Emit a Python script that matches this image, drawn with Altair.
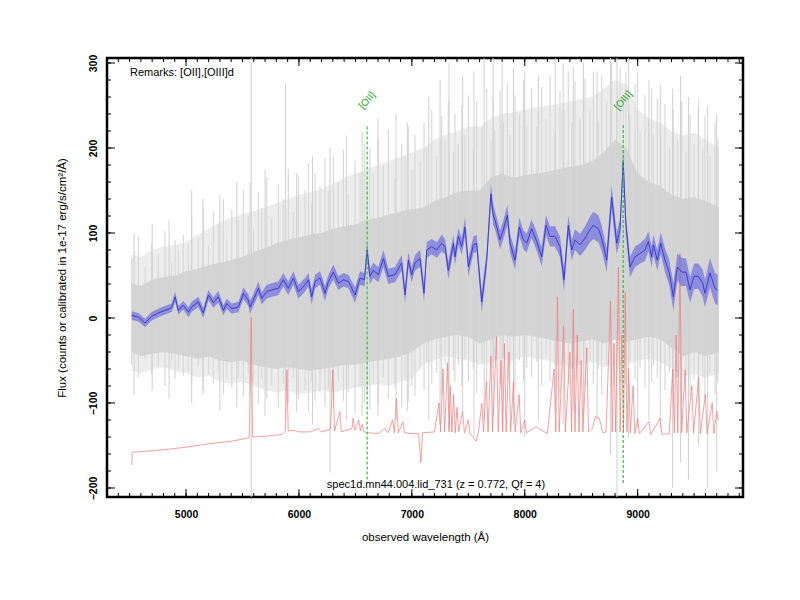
import altair as alt
import pandas as pd

# ---------------- data ----------------
# smoothed spectrum (blue) with its error band
blue_wl = [4519,4578,4637,4696,4755,4814,4873,4903,4932,4976,
           5021,5050,5109,5153,5198,5242,5286,5331,5360,5405,
           5464,5508,5552,5567,5596,5641,5670,5715,5759,5818,
           5862,5906,5951,5995,6054,6084,6113,6143,6187,6231,
           6261,6305,6349,6394,6438,6497,6541,6580,6604,6628,
           6659,6703,6748,6792,6851,6910,6940,6969,6999,7028,
           7073,7108,7132,7176,7220,7264,7294,7323,7368,7382,
           7412,7442,7471,7501,7545,7574,7619,7663,7700,7720,
           7737,7781,7811,7846,7870,7914,7952,7988,8017,8061,
           8106,8150,8188,8224,8268,8312,8348,8386,8416,8445,
           8490,8534,8578,8608,8652,8681,8726,8770,8814,8844,
           8872,8895,8932,8977,9021,9065,9095,9124,9139,9174,
           9204,9242,9281,9316,9352,9390,9428,9464,9499,9537,
           9576,9596,9641,9685,9709]
blue_flux = [3,1,-6,2,6,9,12,25,9,15,
             7,13,19,6,27,18,25,9,17,11,
             13,29,21,13,21,35,23,31,33,35,
             45,35,47,31,39,45,25,43,47,29,
             43,54,41,45,43,27,47,45,80,49,
             56,51,70,49,51,65,27,68,51,65,
             70,29,80,84,80,88,84,56,88,72,
             96,84,107,60,86,88,19,68,146,122,
             115,92,104,121,88,68,107,92,88,105,
             90,72,109,96,96,84,45,109,80,92,
             86,94,104,109,105,94,68,142,88,104,
             185,111,60,72,76,80,90,72,86,68,
             88,68,53,25,60,54,54,33,49,49,
             41,29,53,35,33]
blue_err = [5,5,5,5,5,5,5,6,5,5,
            6,6,6,6,6,6,7,6,6,6,
            6,7,7,8,7,8,7,8,8,8,
            8,8,8,8,8,8,9,8,8,9,
            8,9,8,8,8,9,8,8,9,9,
            9,9,10,9,9,9,10,9,9,9,
            10,10,9,9,9,10,9,10,10,10,
            10,10,11,11,10,10,12,11,12,12,
            11,11,11,12,11,11,11,11,11,11,
            11,11,12,12,12,12,13,12,12,12,
            13,14,15,16,16,15,14,14,13,13,
            13,12,12,12,12,13,12,12,12,12,
            13,14,15,16,16,17,16,15,15,15,
            16,16,17,18,18]

# extent of the individual exposures (grey streaks) at the same wavelengths
noise_hi = [70,95,60,88,75,102,66,92,80,98,
            88,120,95,130,85,125,110,140,92,128,
            115,150,120,160,105,148,130,165,118,158,
            140,175,125,168,150,182,135,170,155,188,
            150,190,160,198,145,185,170,205,160,200,
            170,210,180,222,165,205,190,225,175,215,
            185,230,200,245,190,238,210,255,195,240,
            205,250,215,262,200,255,225,270,210,260,
            220,268,230,275,215,262,240,280,225,270,
            225,272,235,285,220,268,245,290,230,278,
            235,282,245,290,230,285,255,300,250,295,
            260,290,240,275,220,262,235,270,215,258,
            215,252,200,245,210,255,195,240,205,248,
            200,238,190,230,210]
noise_lo = [-55,-70,-48,-66,-58,-80,-50,-72,-60,-68,
            -62,-75,-55,-85,-66,-78,-60,-90,-70,-82,
            -70,-92,-65,-88,-75,-100,-72,-95,-80,-105,
            -78,-100,-70,-95,-85,-110,-75,-98,-88,-105,
            -82,-105,-75,-98,-88,-112,-80,-100,-90,-108,
            -78,-100,-70,-95,-82,-105,-72,-98,-80,-92,
            -60,-85,-52,-78,-65,-90,-55,-80,-62,-75,
            -55,-80,-48,-75,-60,-88,-52,-78,-58,-72,
            -50,-78,-45,-72,-55,-85,-50,-75,-58,-70,
            -52,-80,-48,-75,-58,-88,-52,-78,-60,-72,
            -55,-82,-50,-78,-60,-90,-55,-80,-62,-75,
            -55,-78,-50,-72,-58,-82,-50,-75,-56,-70,
            -60,-85,-65,-95,-70,-100,-68,-92,-72,-98,
            -70,-95,-65,-90,-75]

# individual exposures (grey): dense core and outer envelope
gray_wl = [4520,4600,4700,4800,4900,5000,5100,5200,5300,5400,
           5500,5600,5700,5800,5900,6000,6100,6200,6300,6400,
           6500,6600,6700,6800,6900,7000,7100,7200,7300,7400,
           7500,7600,7700,7800,7900,8000,8100,8200,8300,8400,
           8500,8600,8700,8800,8900,9000,9100,9200,9300,9400,
           9500,9600,9720]
inner_lo = [-40,-45,-42,-40,-42,-45,-48,-45,-50,-52,
            -50,-55,-58,-60,-58,-60,-62,-60,-58,-55,
            -55,-52,-50,-48,-45,-40,-30,-25,-22,-20,
            -22,-30,-25,-20,-22,-20,-22,-25,-28,-30,
            -28,-25,-30,-25,-28,-25,-22,-25,-35,-45,
            -40,-45,-40]
inner_hi = [40,38,45,48,50,55,58,62,65,68,
            72,78,82,88,92,95,98,100,105,108,
            110,115,118,122,125,128,130,138,142,148,
            150,150,165,170,165,168,170,172,175,178,
            180,185,195,210,200,170,160,155,145,140,
            142,138,130]
outer_lo = [-62,-65,-60,-58,-62,-65,-70,-68,-75,-78,
            -75,-80,-85,-88,-85,-90,-88,-85,-88,-85,
            -82,-80,-78,-80,-75,-72,-55,-50,-45,-48,
            -50,-55,-52,-48,-50,-45,-48,-50,-55,-58,
            -55,-52,-58,-55,-55,-50,-48,-52,-60,-70,
            -65,-70,-65]
outer_hi = [75,72,80,84,86,90,98,105,112,118,
            122,126,130,135,140,145,148,152,158,165,
            170,175,180,185,190,195,200,210,215,220,
            225,225,235,240,242,245,248,250,252,255,
            258,260,270,280,275,245,235,230,220,215,
            218,210,200]

# isolated grey spikes
streak_wl = [4540,4700,4850,5050,5150,5300,5450,5577,5700,5880,
             5980,6120,6275,6420,6560,6700,6860,6960,7150,7250,
             7330,7450,7550,7640,7720,7800,7900,8000,8120,8270,
             8340,8430,8520,8640,8760,8817,8920,9000,9100,9200,
             9310,9380,9450,9540,9620,9700]
streak_lo = [-90,-85,-95,-100,-90,-110,-105,-211,-115,-120,
             -110,-125,-182,-120,-115,-115,-120,-110,-120,-125,
             -130,-110,-140,-120,-115,-130,-125,-140,-120,-110,
             -125,-110,-115,-120,-160,-211,-140,-130,-120,-130,
             -200,-170,-190,-150,-200,-180]
streak_hi = [100,110,115,150,140,145,160,306,175,276,
             170,190,200,215,220,235,240,230,260,280,
             300,285,290,306,306,300,295,290,285,306,
             300,295,300,290,306,306,306,290,280,275,
             270,285,260,255,250,240]

# sky / noise spectrum (red)
red_wl = [4520,4523,4800,5000,5200,5400,5560,5577,5590,5700,
          5850,5880,5893,5905,5950,6000,6100,6170,6200,6280,
          6300,6315,6363,6375,6470,6480,6495,6530,6545,6560,
          6575,6620,6700,6760,6790,6830,6845,6863,6880,6920,
          6935,7000,7060,7080,7095,7200,7240,7255,7276,7290,
          7316,7330,7340,7355,7370,7385,7400,7415,7450,7465,
          7500,7515,7570,7590,7620,7635,7660,7675,7700,7715,
          7750,7765,7790,7805,7820,7835,7860,7875,7900,7915,
          7950,7965,8000,8015,8100,8200,8260,8275,8290,8305,
          8345,8360,8400,8415,8430,8445,8465,8480,8500,8515,
          8550,8565,8600,8625,8660,8690,8720,8760,8775,8790,
          8805,8830,8845,8860,8875,8890,8905,8920,8935,8960,
          8975,9000,9015,9100,9115,9200,9215,9280,9310,9325,
          9340,9355,9375,9390,9420,9435,9480,9495,9540,9555,
          9600,9615,9660,9675,9700,9715]
red_flux = [-173,-158,-155,-152,-148,-145,-141,1,-140,-139,
            -137,-133,-61,-133,-132,-134,-134,-130,-134,-131,
            -61,-133,-110,-134,-130,-118,-132,-120,-133,-125,
            -134,-135,-136,-130,-135,-120,-135,-95,-135,-122,
            -135,-136,-136,-170,-135,-134,-100,-134,-60,-134,
            -53,-134,-80,-134,-90,-135,-105,-134,-110,-135,
            -120,-136,-145,-134,-100,-134,-75,-134,-45,-134,
            -22,-134,-50,-134,-30,-134,-40,-134,-75,-134,
            -90,-135,-120,-135,-128,-136,-60,-134,25,-134,
            -10,-134,-40,-134,10,-134,-20,-134,-50,-134,
            -35,-134,-130,-116,-118,-135,-134,20,-134,-30,
            -134,60,-134,-20,-134,30,-134,-60,-135,-80,
            -136,-118,-136,-122,-137,-118,-137,-136,-60,-135,
            -20,-135,76,-135,-61,-135,-80,-135,-70,-136,
            -90,-136,-100,-136,-110,-120]

# emission lines at z = 0.772
line_wl = [6604, 8872]
line_lo = [-190, -194]
line_hi = [227, 227]
line_lab_y = [256, 256]
line_names = ["[OII]", "[OIII]"]

# axis ticks
x_major = [5000, 6000, 7000, 8000, 9000]
x_minor = list(range(4400, 9901, 100))
y_major = [-200, -100, 0, 100, 200, 300]
y_minor = list(range(-200, 301, 20))

# ---------------- chart ----------------
W, H = 636, 439
FONT = "Liberation Sans"

xscale = alt.Scale(domain=[4300, 9933], nice=False, zero=False)
yscale = alt.Scale(domain=[-210.6, 305.9], nice=False, zero=False)
xaxis = alt.Axis(values=x_major, format="d", title="observed wavelength (Å)", ticks=False,
                 domain=False, grid=False, labelFont=FONT, labelFontWeight="bold",
                 labelFontSize=10.5, labelPadding=12, labelColor="black",
                 titleFont=FONT, titleFontWeight="normal", titleFontSize=11.5,
                 titlePadding=12, titleColor="black")
yaxis = alt.Axis(values=y_major, format="d",
                 title="Flux (counts or calibrated in 1e-17 erg/s/cm²/Å)",
                 ticks=False, domain=False, grid=False, labelFont=FONT,
                 labelFontWeight="bold", labelFontSize=10.5, labelAngle=270,
                 labelAlign="center", labelBaseline="bottom", labelPadding=9,
                 labelColor="black", titleFont=FONT, titleFontWeight="normal",
                 titleFontSize=11.5, titlePadding=21, titleColor="black")


def X(f):
    return alt.X(f"{f}:Q", scale=xscale, axis=xaxis)


def Y(f):
    return alt.Y(f"{f}:Q", scale=yscale, axis=yaxis)


gray_df = pd.DataFrame({"wl": gray_wl, "ilo": inner_lo, "ihi": inner_hi,
                        "olo": outer_lo, "ohi": outer_hi})
streak_df = pd.DataFrame({"wl": streak_wl, "flux": streak_lo, "hi": streak_hi})
noise_df = pd.DataFrame({"wl": blue_wl, "flux": noise_lo, "hi": noise_hi})
blue_df = pd.DataFrame({"wl": blue_wl, "flux": blue_flux})
blue_df["lo"] = [f - e for f, e in zip(blue_flux, blue_err)]
blue_df["hi"] = [f + e for f, e in zip(blue_flux, blue_err)]
red_df = pd.DataFrame({"wl": red_wl, "flux": red_flux})
line_df = pd.DataFrame({"wl": line_wl, "flux": line_lo, "hi": line_hi,
                        "ly": line_lab_y, "name": line_names})

outer = alt.Chart(gray_df).mark_area(color="#ececec", clip=True).encode(
    x=X("wl"), y=Y("olo"), y2="ohi")
noise = alt.Chart(noise_df).mark_rule(color="#d9d9d9", strokeWidth=1.2, clip=True).encode(
    x=X("wl"), y=Y("flux"), y2="hi")
streaks = alt.Chart(streak_df).mark_rule(color="#d0d0d0", strokeWidth=1, clip=True).encode(
    x=X("wl"), y=Y("flux"), y2="hi")
inner = alt.Chart(gray_df).mark_area(color="#d1d1d1", opacity=0.9, clip=True).encode(
    x=X("wl"), y=Y("ilo"), y2="ihi")
red = alt.Chart(red_df).mark_line(color="#f07878", strokeWidth=0.7, clip=True).encode(
    x=X("wl"), y=Y("flux"))
band = alt.Chart(blue_df).mark_area(color="#6f6fe0", opacity=0.7, clip=True).encode(
    x=X("wl"), y=Y("lo"), y2="hi")
blue = alt.Chart(blue_df).mark_line(color="#3434d0", strokeWidth=0.9, clip=True).encode(
    x=X("wl"), y=Y("flux"))
glines = alt.Chart(line_df).mark_rule(color="#3cba3c", strokeWidth=1.2,
                                      strokeDash=[3, 2]).encode(
    x=X("wl"), y=Y("flux"), y2="hi")
glabels = alt.Chart(line_df).mark_text(color="#22a322", fontSize=10, font=FONT,
                                       angle=310, align="center",
                                       baseline="middle").encode(
    x=X("wl"), y=alt.Y("ly:Q", scale=yscale, axis=yaxis), text="name:N")

one = pd.DataFrame({"a": [0]})
remarks = alt.Chart(one).mark_text(align="left", baseline="middle", fontSize=11,
                                   font=FONT, color="black").encode(
    x=alt.value(23), y=alt.value(15), text=alt.value("Remarks: [OII],[OIII]d"))
specname = alt.Chart(one).mark_text(align="center", baseline="middle", fontSize=11,
                                    font=FONT, color="black").encode(
    x=alt.value(329), y=alt.value(427),
    text=alt.value("spec1d.mn44.004.lid_731 (z = 0.772, Qf = 4)"))


def xticks(vals, length):
    df = pd.DataFrame({"wl": vals})
    bot = alt.Chart(df).mark_rule(color="black", strokeWidth=1).encode(
        x=X("wl"), y=alt.value(H), y2=alt.value(H - length))
    top = alt.Chart(df).mark_rule(color="black", strokeWidth=1).encode(
        x=X("wl"), y=alt.value(0), y2=alt.value(length))
    return [bot, top]


def yticks(vals, length):
    df = pd.DataFrame({"flux": vals})
    left = alt.Chart(df).mark_rule(color="black", strokeWidth=1).encode(
        y=Y("flux"), x=alt.value(0), x2=alt.value(length))
    right = alt.Chart(df).mark_rule(color="black", strokeWidth=1).encode(
        y=Y("flux"), x=alt.value(W), x2=alt.value(W - length))
    return [left, right]


layers = [outer, noise, streaks, inner, red, band, blue, glines, glabels, remarks, specname]
layers += xticks(x_minor, 4) + xticks(x_major, 8)
layers += yticks(y_minor, 4) + yticks(y_major, 8)

chart = alt.layer(*layers).properties(
    width=W, height=H,
    autosize=alt.AutoSizeParams(type="none"),
    padding={"left": 99, "top": 50, "right": 49, "bottom": 80},
    background="white",
).configure_view(stroke="black", strokeWidth=2.5)

chart.save("out.html", embed_options={"renderer": "svg", "actions": False})
